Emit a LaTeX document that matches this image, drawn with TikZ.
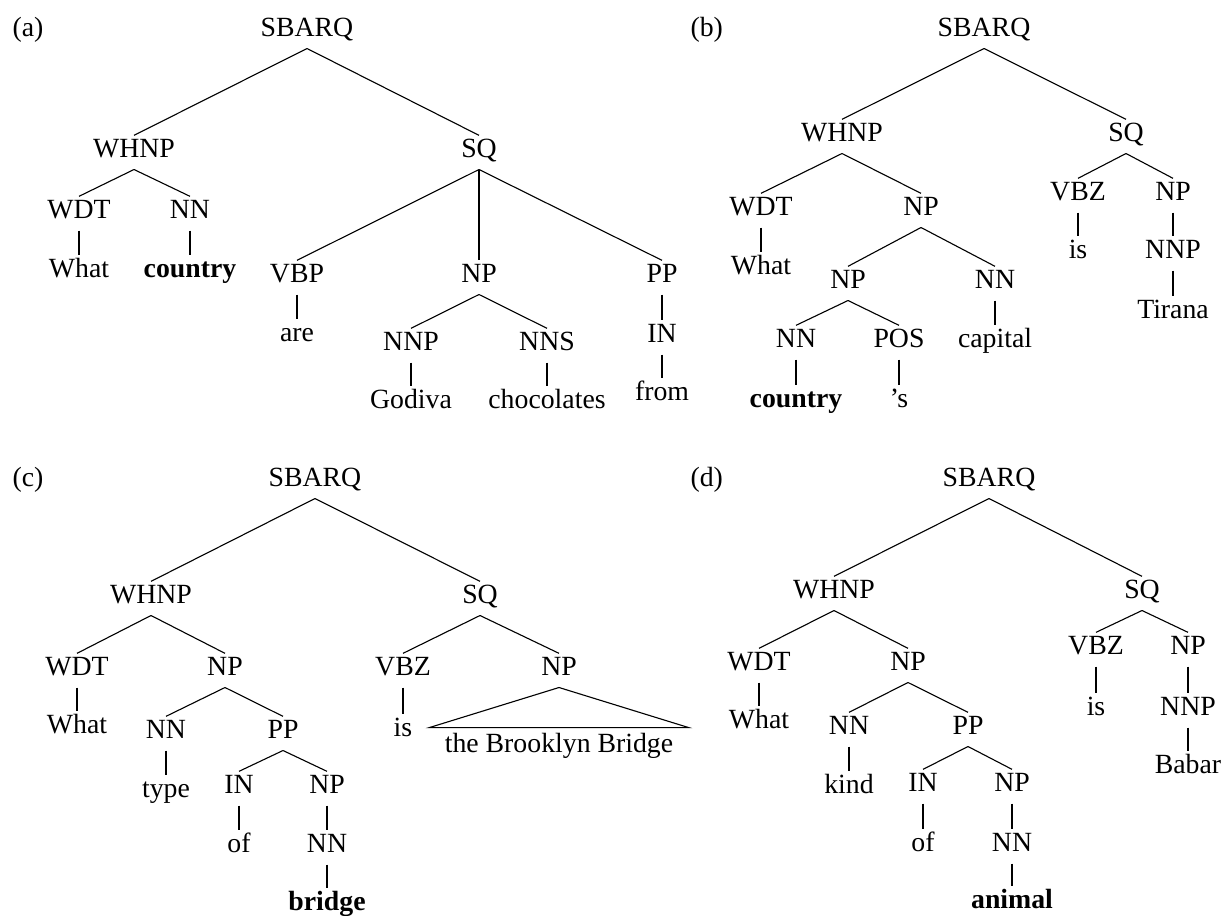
\documentclass[tikz,border=0pt]{standalone}
\usepackage{fontspec}
\setmainfont{Liberation Serif}
\begin{document}
\begin{tikzpicture}[x=0.36pt,y=-0.36pt,
  font=\fontsize{10}{12}\selectfont,
  cat/.style={anchor=base, inner xsep=1pt, inner ysep=1.2pt, text height=6.4pt, text depth=3.1pt},
  lab/.style={anchor=base west, inner sep=0pt},
  branch/.style={line width=0.4pt},
  phrase/.style={anchor=base, inner xsep=0pt, inner ysep=2.2pt, minimum width=92.9pt,
                 text height=6.4pt, text depth=3.1pt}]
\useasboundingbox (0,0) rectangle (1226,915);

% ---------- (a) ----------
\node[lab] (la) at (12,36) {(a)};
\node[cat] (a0) at (307,36) {SBARQ};
\node[cat] (a1) at (134,157) {WHNP};
\node[cat] (a2) at (479,157) {SQ};
\node[cat] (a3) at (79,218) {WDT};
\node[cat] (a4) at (190,218) {NN};
\node[cat] (a5) at (79,277) {What};
\node[cat] (a6) at (190,277) {\textbf{country}};
\node[cat] (a7) at (297,282) {VBP};
\node[cat] (a8) at (479,282) {NP};
\node[cat] (a9) at (662,282) {PP};
\node[cat] (a10) at (297,341) {are};
\node[cat] (a11) at (411,350) {NNP};
\node[cat] (a12) at (547,350) {NNS};
\node[cat] (a13) at (662,342) {IN};
\node[cat] (a14) at (411,408) {Godiva};
\node[cat] (a15) at (547,408) {chocolates};
\node[cat] (a16) at (662,400) {from};
\foreach \p/\c in {a0/a1,a0/a2,a1/a3,a1/a4,a3/a5,a4/a6,a2/a7,a2/a8,a2/a9,
                   a7/a10,a8/a11,a8/a12,a9/a13,a11/a14,a12/a15,a13/a16}
  \draw[branch] (\p.south) -- (\c.north);

% ---------- (b) ----------
\node[lab] (lb) at (690,36) {(b)};
\node[cat] (b0) at (984,36) {SBARQ};
\node[cat] (b1) at (842,141) {WHNP};
\node[cat] (b2) at (1126,141) {SQ};
\node[cat] (b3) at (761,215) {WDT};
\node[cat] (b4) at (921,215) {NP};
\node[cat] (b5) at (761,274) {What};
\node[cat] (b6) at (848,288) {NP};
\node[cat] (b7) at (995,288) {NN};
\node[cat] (b8) at (796,347) {NN};
\node[cat] (b9) at (899,347) {POS};
\node[cat] (b10) at (995,347) {capital};
\node[cat] (b11) at (796,407) {\textbf{country}};
\node[cat] (b12) at (899,407) {’s};
\node[cat] (b13) at (1078,200) {VBZ};
\node[cat] (b14) at (1173,200) {NP};
\node[cat] (b15) at (1078,258) {is};
\node[cat] (b16) at (1173,258) {NNP};
\node[cat] (b17) at (1173,318) {Tirana};
\foreach \p/\c in {b0/b1,b0/b2,b1/b3,b1/b4,b3/b5,b4/b6,b4/b7,b6/b8,b6/b9,
                   b7/b10,b8/b11,b9/b12,b2/b13,b2/b14,b13/b15,b14/b16,b16/b17}
  \draw[branch] (\p.south) -- (\c.north);

% ---------- (c) ----------
\node[lab] (lc) at (12,486) {(c)};
\node[cat] (c0) at (315,486) {SBARQ};
\node[cat] (c1) at (151,603) {WHNP};
\node[cat] (c2) at (480,603) {SQ};
\node[cat] (c3) at (77,675) {WDT};
\node[cat] (c4) at (225,675) {NP};
\node[cat] (c5) at (77,733) {What};
\node[cat] (c6) at (166,738) {NN};
\node[cat] (c7) at (283,738) {PP};
\node[cat] (c8) at (166,797) {type};
\node[cat] (c9) at (239,793) {IN};
\node[cat] (c10) at (327,793) {NP};
\node[cat] (c11) at (239,852) {of};
\node[cat] (c12) at (327,852) {NN};
\node[cat] (c13) at (327,910) {\textbf{bridge}};
\node[cat] (c14) at (403,675) {VBZ};
\node[cat] (c15) at (559,675) {NP};
\node[cat] (c16) at (403,736) {is};
\node[phrase] (c17) at (559,752) {the Brooklyn Bridge};
\foreach \p/\c in {c0/c1,c0/c2,c1/c3,c1/c4,c3/c5,c4/c6,c4/c7,c6/c8,c7/c9,
                   c7/c10,c9/c11,c10/c12,c12/c13,c2/c14,c2/c15,c14/c16}
  \draw[branch] (\p.south) -- (\c.north);
\draw[branch] (c15.south) -- (c17.north west) -- (c17.north east) -- cycle;

% ---------- (d) ----------
\node[lab] (ld) at (690,486) {(d)};
\node[cat] (d0) at (989,486) {SBARQ};
\node[cat] (d1) at (834,598) {WHNP};
\node[cat] (d2) at (1142,598) {SQ};
\node[cat] (d3) at (759,670) {WDT};
\node[cat] (d4) at (908,670) {NP};
\node[cat] (d5) at (759,728) {What};
\node[cat] (d6) at (849,734) {NN};
\node[cat] (d7) at (968,734) {PP};
\node[cat] (d8) at (849,793) {kind};
\node[cat] (d9) at (923,791) {IN};
\node[cat] (d10) at (1012,791) {NP};
\node[cat] (d11) at (923,851) {of};
\node[cat] (d12) at (1012,851) {NN};
\node[cat] (d13) at (1012,908) {\textbf{animal}};
\node[cat] (d14) at (1096,654) {VBZ};
\node[cat] (d15) at (1188,654) {NP};
\node[cat] (d16) at (1096,715) {is};
\node[cat] (d17) at (1188,715) {NNP};
\node[cat] (d18) at (1188,773) {Babar};
\foreach \p/\c in {d0/d1,d0/d2,d1/d3,d1/d4,d3/d5,d4/d6,d4/d7,d6/d8,d7/d9,
                   d7/d10,d9/d11,d10/d12,d12/d13,d2/d14,d2/d15,d14/d16,d15/d17,d17/d18}
  \draw[branch] (\p.south) -- (\c.north);
\end{tikzpicture}
\end{document}
